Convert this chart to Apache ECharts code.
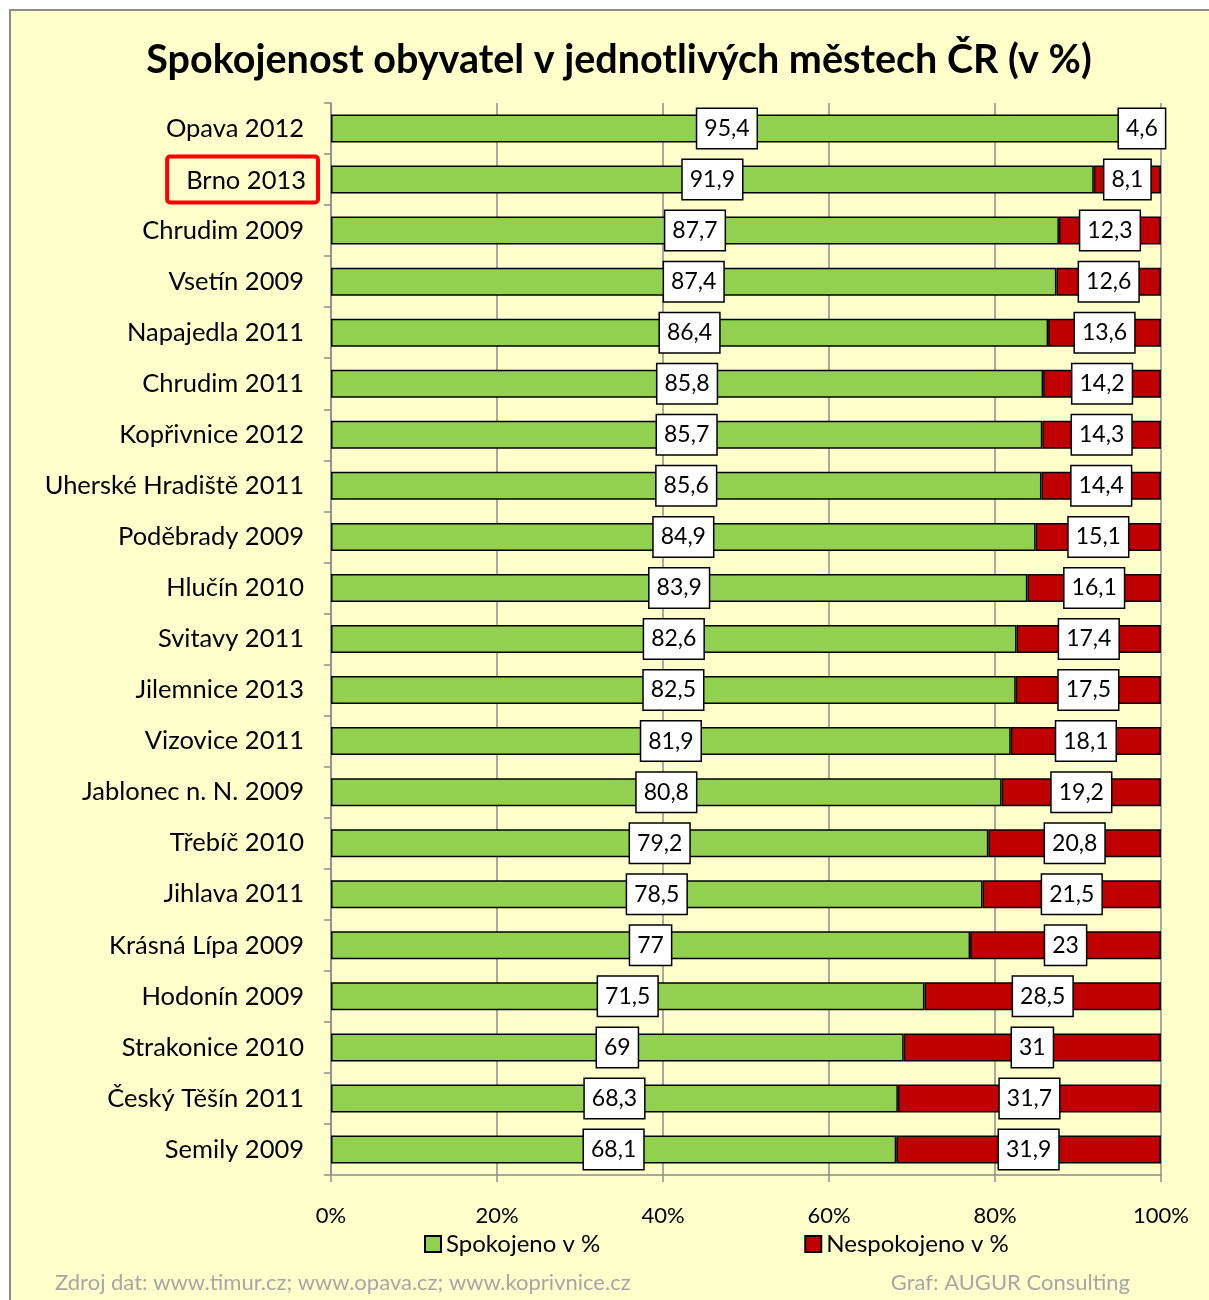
<!DOCTYPE html>
<html>
<head>
<meta charset="utf-8">
<script src="https://cdn.jsdelivr.net/npm/echarts@6/dist/echarts.min.js"></script>
<style>
  html, body { margin: 0; padding: 0; background: #fff; }
  #chart { width: 1209px; height: 1300px; }
</style>
</head>
<body>
<div id="chart"></div>
<script>
// mesta a roky pruzkumu
const cities = [
  'Opava 2012', 'Brno 2013', 'Chrudim 2009', 'Vsetín 2009', 'Napajedla 2011',
  'Chrudim 2011', 'Kopřivnice 2012', 'Uherské Hradiště 2011', 'Poděbrady 2009',
  'Hlučín 2010', 'Svitavy 2011', 'Jilemnice 2013', 'Vizovice 2011',
  'Jablonec n. N. 2009', 'Třebíč 2010', 'Jihlava 2011', 'Krásná Lípa 2009',
  'Hodonín 2009', 'Strakonice 2010', 'Český Těšín 2011', 'Semily 2009'
]
const satisfied = [95.4, 91.9, 87.7, 87.4, 86.4, 85.8, 85.7, 85.6, 84.9, 83.9, 82.6,
  82.5, 81.9, 80.8, 79.2, 78.5, 77, 71.5, 69, 68.3, 68.1]
const unsatisfied = [4.6, 8.1, 12.3, 12.6, 13.6, 14.2, 14.3, 14.4, 15.1, 16.1, 17.4,
  17.5, 18.1, 19.2, 20.8, 21.5, 23, 28.5, 31, 31.7, 31.9]
const xTicks = [0, 20, 40, 60, 80, 100]
const highlighted = 'Brno 2013'

const FONT = 'Lato'
const chart = echarts.init(document.getElementById('chart'))

const dataLabel = {
  show: true,
  position: 'inside',
  fontFamily: FONT,
  fontSize: 23,
  color: '#000',
  backgroundColor: '#fff',
  borderColor: '#000',
  borderWidth: 1.5,
  padding: [9, 7, 7, 7],
  formatter: p => String(p.value).replace('.', ',')
}

const option = {
  backgroundColor: '#fff',
  textStyle: { fontFamily: FONT },
  graphic: [{
    type: 'rect',
    z: -10,
    shape: { x: 10, y: 10, width: 1230, height: 1320 },
    style: { fill: '#FFFFCC', stroke: '#8c8c8c', lineWidth: 2 }
  }],
  title: [
    {
      text: 'Spokojenost obyvatel v jednotlivých městech ČR (v %)',
      left: 614, top: 35, textAlign: 'center',
      textStyle: { fontFamily: FONT, fontSize: 39.5, fontWeight: 'bold', color: '#000' }
    },
    {
      text: 'Zdroj dat: www.timur.cz; www.opava.cz; www.koprivnice.cz',
      left: 50, top: 1267,
      textStyle: { fontFamily: FONT, fontSize: 22, fontWeight: 'normal', color: '#a6a6a6' }
    },
    {
      text: 'Graf: AUGUR Consulting',
      right: 74, top: 1267,
      textStyle: { fontFamily: FONT, fontSize: 22, fontWeight: 'normal', color: '#a6a6a6' }
    }
  ],
  legend: {
    left: 419, top: 1227,
    itemWidth: 16, itemHeight: 16, itemGap: 204,
    icon: 'rect',
    textStyle: { fontFamily: FONT, fontSize: 24, color: '#000' },
    data: ['Spokojeno v %', 'Nespokojeno v %']
  },
  grid: { left: 331, right: 48, top: 103, bottom: 125, outerBoundsMode: 'none' },
  xAxis: {
    type: 'value',
    min: xTicks[0], max: xTicks[xTicks.length - 1], interval: xTicks[1] - xTicks[0],
    axisLine: { show: true, lineStyle: { color: '#8c8c8c', width: 1.5 } },
    axisTick: { show: true, length: 7, lineStyle: { color: '#8c8c8c', width: 1.5 } },
    splitLine: { show: true, lineStyle: { color: '#8c8c8c', width: 1.5 } },
    axisLabel: { margin: 30, fontSize: 22, color: '#000', formatter: '{value}%' }
  },
  yAxis: {
    type: 'category',
    inverse: true,
    data: cities,
    axisLine: { show: true, lineStyle: { color: '#8c8c8c', width: 1.5 } },
    axisTick: { show: true, length: 7, lineStyle: { color: '#8c8c8c', width: 1.5 } },
    axisLabel: {
      margin: 13,
      fontSize: 25.5,
      color: '#000',
      formatter: v => v === highlighted ? '{hl|' + v + '}' : '{n|' + v + '}',
      rich: {
        n: { fontFamily: FONT, fontSize: 25.5, color: '#000', padding: [0, 14, 0, 0] },
        hl: {
          fontFamily: FONT, fontSize: 25.5, color: '#000',
          borderColor: '#ff0000', borderWidth: 4, borderRadius: 3,
          padding: [11, 12, 9, 19]
        }
      }
    }
  },
  series: [
    {
      name: 'Spokojeno v %',
      type: 'bar',
      stack: 'total',
      barWidth: 28,
      data: satisfied,
      itemStyle: { color: '#92D050', borderColor: '#000', borderWidth: 1.5 },
      label: dataLabel
    },
    {
      name: 'Nespokojeno v %',
      type: 'bar',
      stack: 'total',
      barWidth: 28,
      data: unsatisfied,
      itemStyle: { color: '#C00000', borderColor: '#000', borderWidth: 1.5 },
      label: dataLabel
    }
  ]
}

chart.setOption(option)
</script>
</body>
</html>
